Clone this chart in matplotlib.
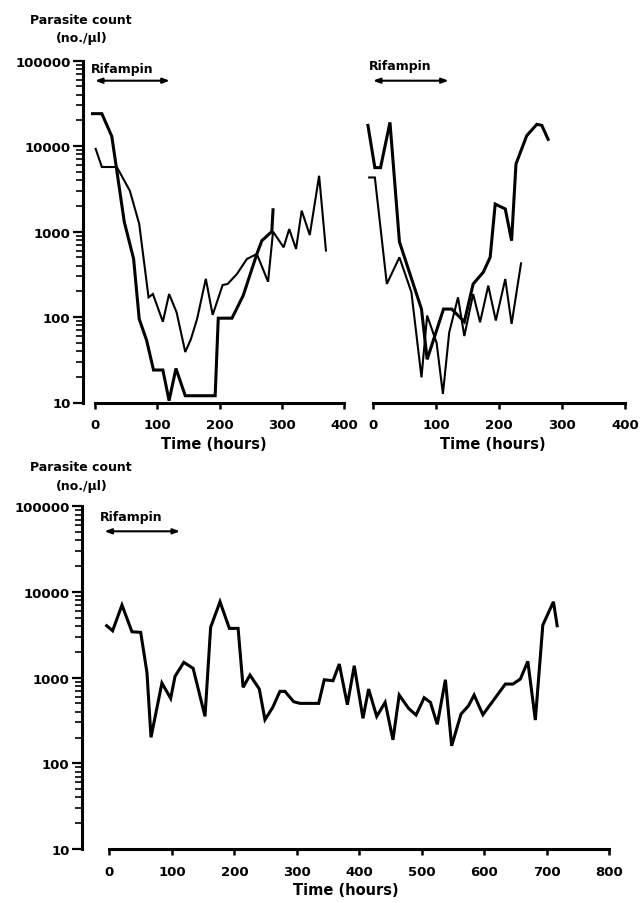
import matplotlib
matplotlib.use('Agg')
import matplotlib.pyplot as plt
from matplotlib.ticker import LogLocator, FuncFormatter, NullFormatter, FixedLocator

plt.rcParams['font.family'] = ['DejaVu Sans']
plt.rcParams['font.weight'] = 'bold'

# rifampin treatment window (hours)
rifampin = (0, 120)

# top left panel: two patients
tl_thick_h = [-4, 11, 27, 47, 62, 71, 83, 94, 109, 119, 130, 145, 193, 198, 220, 238, 260, 268, 284, 286]
tl_thick_v = [24000, 24000, 13000, 1300, 480, 95, 53, 24, 24, 10.5, 25, 12, 12, 97, 97, 178, 547, 783, 1000, 1800]
tl_thin_h = [1, 11, 35, 56, 71, 86, 93, 109, 119, 131, 145, 154, 164, 178, 189, 205, 213, 228, 244, 260,
             278, 286, 303, 312, 323, 332, 345, 360, 371]
tl_thin_v = [9300, 5700, 5700, 3000, 1230, 170, 186, 88, 186, 114, 39, 55, 95, 280, 106, 237, 244, 319, 478, 547,
             259, 1000, 655, 1070, 626, 1760, 912, 4500, 600]

# top right panel: two patients
tr_thick_h = [-8, 3, 12, 27, 42, 77, 86, 112, 125, 145, 159, 175, 186, 194, 210, 220, 227, 244, 260, 268, 278]
tr_thick_v = [17500, 5600, 5600, 19000, 760, 124, 32, 124, 124, 88, 244, 334, 500, 2100, 1840, 783, 6200,
              13250, 18000, 17500, 12000]
tr_thin_h = [-6, 3, 22, 42, 61, 77, 86, 101, 111, 121, 135, 145, 159, 170, 183, 195, 210, 220, 235]
tr_thin_v = [4300, 4300, 244, 500, 195, 19.7, 104, 50, 12.6, 66, 170, 60, 186, 87, 233, 91, 279, 83, 425]

# bottom panel: one patient
b_h = [-4.5, 5, 20, 36, 50, 60, 66.5, 84, 98, 105, 119, 134, 153, 162, 177, 192, 206, 214, 225, 240,
       249, 261.5, 273, 281, 295, 305, 335, 344, 358, 368, 381, 392, 406, 415, 428, 441.5, 454, 464, 479, 491,
       504, 514, 525, 538, 548, 563, 575, 584, 598, 612.5, 634, 646, 658, 670, 682, 694, 711, 717]
b_v = [4035, 3525, 7035, 3433, 3378, 1153, 201, 865, 573, 1036, 1509, 1284, 353, 3864, 7690, 3758, 3758, 771,
       1072, 736, 323, 450, 692, 692, 524, 501, 501, 945, 920, 1442, 483, 1377, 335, 736, 353, 515, 188, 627,
       438, 366, 583, 515, 285, 945, 160, 376, 470, 627, 369, 515, 842, 842, 963, 1549, 320, 4110, 7690, 4035]

y_major = [10, 100, 1000, 10000, 100000]

W, H = 642, 904
fig = plt.figure(figsize=(W / 100, H / 100), dpi=100)


def px_axes(left, top, right, bottom):
    return fig.add_axes([left / W, 1 - bottom / H, (right - left) / W, (bottom - top) / H])


def style(ax, xmin, xmax, xticks, show_y=True):
    ax.set_yscale('log')
    ax.set_ylim(10, 1e5)
    ax.set_xlim(xmin, xmax)
    for s in ['top', 'right']:
        ax.spines[s].set_visible(False)
    ax.spines['bottom'].set_linewidth(2.2)
    ax.spines['bottom'].set_bounds(0, xmax)
    ax.set_xticks(xticks)
    ax.set_xticklabels([str(t) for t in xticks], fontsize=9.5, fontweight='bold')
    ax.tick_params(axis='x', direction='out', length=4.5, width=1.8, pad=7)
    if show_y:
        ax.spines['left'].set_linewidth(2.2)
        ax.spines['left'].set_bounds(10, 1e5)
        ax.yaxis.set_major_locator(FixedLocator(y_major))
        ax.yaxis.set_major_formatter(FuncFormatter(lambda v, p: f"{int(round(v))}"))
        ax.yaxis.set_minor_locator(LogLocator(base=10, subs=range(2, 10), numticks=20))
        ax.yaxis.set_minor_formatter(NullFormatter())
        ax.tick_params(axis='y', which='major', direction='out', length=7, width=1.6, pad=2, labelsize=9.5)
        ax.tick_params(axis='y', which='minor', direction='out', length=5, width=1.2)
    else:
        ax.spines['left'].set_visible(False)
        ax.tick_params(axis='y', which='both', left=False, labelleft=False)
    ax.set_xlabel('Time (hours)', fontsize=10.5, fontweight='bold', labelpad=3)


def rif(ax, text_x, text_y, arrow_y, a0, a1):
    tr = ax.get_xaxis_transform()
    ax.text(text_x, text_y, 'Rifampin', transform=tr, fontsize=9, fontweight='bold', va='center', ha='left')
    ax.annotate('', xy=(a1, arrow_y), xytext=(a0, arrow_y), xycoords=tr, textcoords=tr,
                arrowprops=dict(arrowstyle='<|-|>,head_length=0.4,head_width=0.15', lw=1.5, color='black',
                                shrinkA=0, shrinkB=0))


# top left
ax1 = px_axes(83, 61.7, 344, 403.5)
style(ax1, -19.3, 400, [0, 100, 200, 300, 400])
ax1.plot(tl_thick_h, tl_thick_v, color='black', lw=2.2, solid_joinstyle='miter')
ax1.plot(tl_thin_h, tl_thin_v, color='black', lw=1.5, solid_joinstyle='miter')
rif(ax1, -6.4, 0.976, 0.9415, rifampin[0], rifampin[1])

# top right
ax2 = px_axes(360.8, 61.7, 625, 403.5)
style(ax2, -19.3, 400, [0, 100, 200, 300, 400], show_y=False)
ax2.plot(tr_thick_h, tr_thick_v, color='black', lw=2.2, solid_joinstyle='miter')
ax2.plot(tr_thin_h, tr_thin_v, color='black', lw=1.5, solid_joinstyle='miter')
rif(ax2, -6.3, 0.985, 0.9415, rifampin[0], rifampin[1])

# bottom
ax3 = px_axes(82, 507.3, 609, 850)
style(ax3, -44, 800, [0, 100, 200, 300, 400, 500, 600, 700, 800])
ax3.plot(b_h, b_v, color='black', lw=2.2, solid_joinstyle='miter')
rif(ax3, -15, 0.969, 0.927, -8, 113)

for y0 in [20, 468]:
    fig.text(81 / W, 1 - y0 / H, 'Parasite count', ha='center', va='center', fontsize=9, fontweight='bold')
    fig.text(82 / W, 1 - (y0 + 18.5) / H, '(no./\u00b5l)', ha='center', va='center', fontsize=9,
             fontweight='bold')

fig.savefig('out.png', dpi=100)
